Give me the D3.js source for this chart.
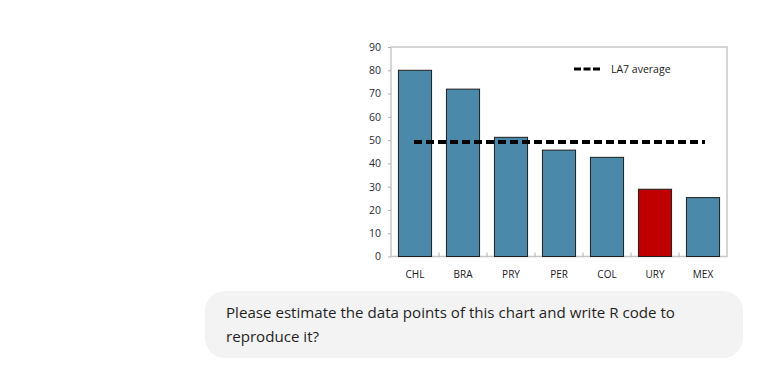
<!DOCTYPE html>
<html>
<head>
<meta charset="utf-8">
<script src="https://cdn.jsdelivr.net/npm/d3@7"></script>
<style>
body { margin: 0; background: #fff; }
svg { display: block; }
</style>
</head>
<body>
<div id="viz"></div>
<script>
var width = 757, height = 372;

var countries = ["CHL", "BRA", "PRY", "PER", "COL", "URY", "MEX"];
var values = [80, 71.9, 51.2, 45.7, 42.6, 28.9, 25.3];
var highlight = ["URY"];
var la7Average = 49.2;
var yTicks = [0, 10, 20, 30, 40, 50, 60, 70, 80, 90];
var legendLabel = "LA7 average";
var promptLines = ["Please estimate the data points of this chart and write R code to", "reproduce it?"];

var plot = {left: 391, right: 727, top: 47, bottom: 256.5};

var svg = d3.select("#viz").append("svg")
	.attr("width", width)
	.attr("height", height);

var x = d3.scaleBand()
	.domain(countries)
	.range([plot.left, plot.right])
	.paddingInner(0.31)
	.paddingOuter(0.155);

var y = d3.scaleLinear()
	.domain([0, 90])
	.range([plot.bottom, plot.top]);

var font = "'Open Sans', 'Noto Sans', sans-serif";

// plot frame
svg.append("rect")
	.attr("x", plot.left)
	.attr("y", plot.top)
	.attr("width", plot.right - plot.left)
	.attr("height", plot.bottom - plot.top)
	.attr("fill", "none")
	.attr("stroke", "#c8c8c8")
	.attr("stroke-width", 1.5);

// y axis
var yAxis = svg.append("g")
	.attr("transform", "translate(" + plot.left + ",0)")
	.call(d3.axisLeft(y).tickValues(yTicks).tickSize(3).tickPadding(7));
yAxis.select(".domain").remove();
yAxis.selectAll("line").attr("stroke", "#b0b0b0");
yAxis.selectAll("text")
	.attr("fill", "#1f2a3a")
	.style("font-family", font)
	.style("font-size", "10.5px");

// x axis: small ticks on band boundaries, pointing up
var bounds = countries.slice(1).map(function(d) { return x(d) - x.step() * x.paddingInner() / 2; });
svg.selectAll(".xtick")
	.data(bounds)
	.enter().append("line")
	.attr("class", "xtick")
	.attr("x1", function(d) { return d; })
	.attr("x2", function(d) { return d; })
	.attr("y1", plot.bottom)
	.attr("y2", plot.bottom - 4)
	.attr("stroke", "#b0b0b0");

svg.selectAll(".xlabel")
	.data(countries)
	.enter().append("text")
	.attr("class", "xlabel")
	.attr("x", function(d) { return x(d) + x.bandwidth() / 2; })
	.attr("y", 278)
	.attr("text-anchor", "middle")
	.attr("fill", "#1a1a1a")
	.style("font-family", font)
	.style("font-size", "10px")
	.text(function(d) { return d; });

// bars
svg.selectAll(".bar")
	.data(countries)
	.enter().append("rect")
	.attr("class", "bar")
	.attr("x", function(d) { return x(d); })
	.attr("y", function(d, i) { return y(values[i]); })
	.attr("width", x.bandwidth())
	.attr("height", function(d, i) { return plot.bottom - y(values[i]); })
	.attr("fill", function(d) { return highlight.indexOf(d) >= 0 ? "#c00000" : "#4a89aa"; })
	.attr("stroke", "#1e1e1e")
	.attr("stroke-width", 1);

// average line
svg.append("line")
	.attr("x1", x(countries[0]) + x.bandwidth() / 2 - 1)
	.attr("x2", x(countries[countries.length - 1]) + x.bandwidth() / 2 + 2)
	.attr("y1", y(la7Average))
	.attr("y2", y(la7Average))
	.attr("stroke", "#000")
	.attr("stroke-width", 4)
	.attr("stroke-dasharray", "8,4");

// legend
svg.append("line")
	.attr("x1", 574).attr("x2", 600)
	.attr("y1", 69).attr("y2", 69)
	.attr("stroke", "#000")
	.attr("stroke-width", 3)
	.attr("stroke-dasharray", "7,2.5");
svg.append("text")
	.attr("x", 611)
	.attr("y", 73)
	.attr("fill", "#1a1a1a")
	.style("font-family", font)
	.style("font-size", "10.5px")
	.text(legendLabel);

// chat bubble
svg.append("rect")
	.attr("x", 205)
	.attr("y", 291)
	.attr("width", 538)
	.attr("height", 67)
	.attr("rx", 20)
	.attr("fill", "#f3f3f3");

var prompt = svg.selectAll(".prompt")
	.data(promptLines)
	.enter().append("text")
	.attr("class", "prompt")
	.attr("x", 226)
	.attr("y", function(d, i) { return 318 + i * 23.5; })
	.attr("fill", "#1f1f1f")
	.style("font-family", font)
	.style("font-size", "15px")
	.text(function(d) { return d; });

// fit first line width to the reference (~449px)
var w = prompt.node().getComputedTextLength();
var fs = 15 * 449 / w;
prompt.style("font-size", fs + "px");
</script>
</body>
</html>
